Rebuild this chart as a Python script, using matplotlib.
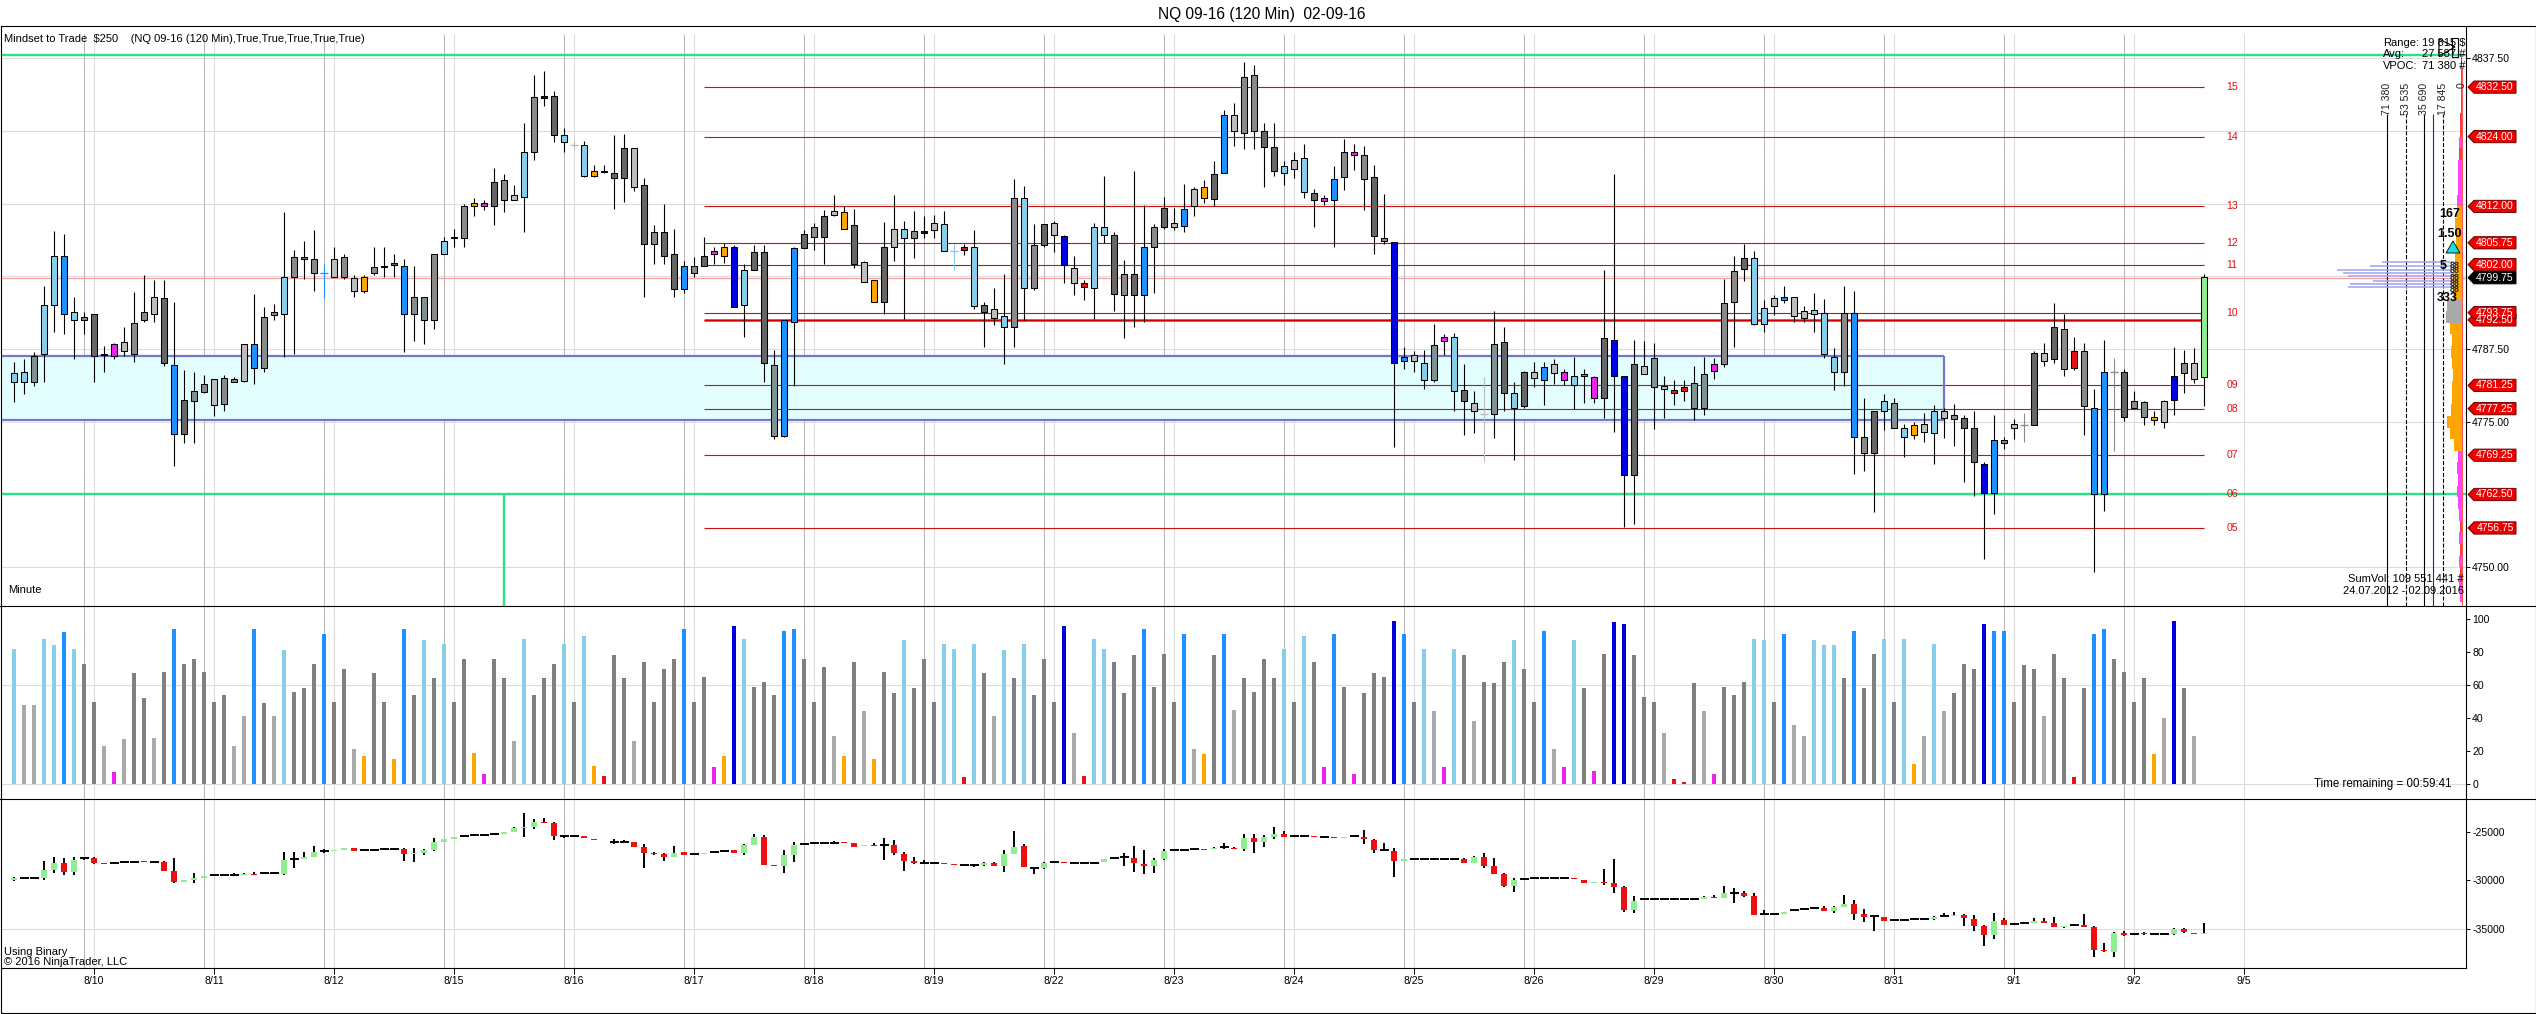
import numpy as np
import matplotlib
matplotlib.use('Agg')
import matplotlib.pyplot as plt
from matplotlib.patches import Polygon, Rectangle
from matplotlib.lines import Line2D
from matplotlib.transforms import blended_transform_factory

plt.rcParams['font.family'] = ['Liberation Sans', 'DejaVu Sans']
plt.rcParams['axes.unicode_minus'] = False

# ---- NQ 09-16, 120 min bars (index 0 = first bar on the chart) ----
high = [4785.2, 4785.7, 4787.0, 4798.4, 4807.7, 4807.3, 4796.5, 4793.8, 4793.5, 4788.1,
        4788.6, 4791.3, 4797.3, 4800.2, 4799.3, 4799.3, 4795.6, 4783.9, 4783.6, 4783.0,
        4782.4, 4783.0, 4782.7, 4788.3, 4796.9, 4794.7, 4795.3, 4811.0, 4804.5, 4806.0,
        4807.9, 4802.1, 4805.0, 4803.8, 4800.2, 4800.2, 4805.1, 4805.1, 4803.9, 4802.9,
        4801.8, 4796.5, 4803.9, 4806.7, 4808.2, 4812.5, 4813.4, 4813.1, 4818.6, 4817.6,
        4815.6, 4826.3, 4834.6, 4835.2, 4831.8, 4825.4, 4823.3, 4823.3, 4819.1, 4819.1,
        4824.2, 4824.5, 4822.1, 4816.8, 4808.8, 4812.5, 4808.2, 4802.7, 4803.3, 4806.7,
        4805.1, 4805.7, 4805.4, 4802.1, 4805.4, 4805.4, 4787.3, 4792.5, 4805.1, 4807.9,
        4809.1, 4811.3, 4814.0, 4812.0, 4811.6, 4802.7, 4799.3, 4809.4, 4814.0, 4809.5,
        4811.2, 4810.3, 4810.6, 4811.2, 4805.6, 4805.6, 4807.9, 4795.6, 4797.9, 4800.4,
        4816.7, 4815.5, 4808.9, 4809.0, 4809.5, 4807.1, 4803.4, 4799.3, 4809.2, 4817.2,
        4807.6, 4802.8, 4818.1, 4812.2, 4808.9, 4813.7, 4811.8, 4815.8, 4815.3, 4816.5,
        4819.8, 4828.6, 4829.8, 4836.8, 4836.3, 4826.4, 4826.4, 4819.8, 4821.4, 4822.7,
        4815.0, 4814.0, 4818.9, 4823.6, 4822.8, 4822.3, 4819.2, 4814.2, 4805.9, 4787.9,
        4787.2, 4787.4, 4791.8, 4790.0, 4790.2, 4784.9, 4780.2, 4782.7, 4794.0, 4791.2,
        4781.9, 4783.7, 4785.2, 4785.2, 4785.7, 4784.1, 4786.2, 4784.1, 4782.9, 4801.0,
        4817.5, 4782.9, 4789.0, 4788.8, 4788.5, 4782.9, 4782.1, 4782.1, 4784.5, 4786.2,
        4786.0, 4799.5, 4803.4, 4805.6, 4804.4, 4796.0, 4796.8, 4798.4, 4796.5, 4794.9,
        4797.1, 4796.1, 4787.7, 4798.4, 4797.4, 4779.1, 4776.8, 4779.7, 4779.0, 4774.6,
        4774.9, 4776.5, 4777.8, 4777.4, 4778.0, 4776.1, 4776.8, 4768.0, 4776.1, 4772.4,
        4775.5, 4776.5, 4787.1, 4788.5, 4795.4, 4793.6, 4789.5, 4788.5, 4780.7, 4789.1,
        4786.0, 4784.0, 4780.2, 4778.5, 4776.9, 4778.8, 4787.8, 4787.4, 4787.7, 4800.4]
low = [4778.4, 4779.7, 4781.2, 4781.8, 4790.4, 4790.0, 4785.7, 4790.1, 4781.8, 4783.5,
       4785.8, 4786.3, 4785.2, 4792.2, 4792.2, 4784.6, 4767.4, 4771.4, 4771.4, 4780.0,
       4776.0, 4776.9, 4781.8, 4781.8, 4781.5, 4783.6, 4792.5, 4786.1, 4786.7, 4799.6,
       4797.5, 4796.2, 4799.9, 4799.6, 4796.5, 4797.2, 4800.2, 4799.9, 4799.9, 4787.0,
       4788.9, 4788.3, 4791.0, 4803.8, 4805.1, 4805.1, 4810.4, 4811.3, 4808.8, 4811.0,
       4813.1, 4807.6, 4819.9, 4829.3, 4823.1, 4821.4, 4821.7, 4817.1, 4817.1, 4817.7,
       4811.6, 4812.8, 4814.6, 4796.5, 4802.1, 4802.1, 4796.5, 4797.2, 4799.9, 4801.8,
       4802.1, 4802.2, 4794.7, 4789.5, 4801.0, 4781.8, 4772.0, 4772.3, 4781.2, 4804.9,
       4804.5, 4802.1, 4810.4, 4808.2, 4801.4, 4799.0, 4795.6, 4793.5, 4802.7, 4792.6,
       4803.1, 4806.6, 4806.5, 4804.3, 4801.0, 4803.7, 4794.4, 4787.9, 4791.7, 4784.9,
       4787.9, 4792.4, 4797.6, 4805.0, 4804.2, 4798.9, 4796.7, 4796.0, 4792.6, 4805.8,
       4794.0, 4789.4, 4791.2, 4792.1, 4797.2, 4808.2, 4807.9, 4807.6, 4810.4, 4812.6,
       4812.0, 4817.7, 4822.4, 4821.9, 4821.9, 4815.4, 4817.2, 4815.7, 4816.8, 4813.4,
       4808.4, 4812.2, 4805.1, 4814.8, 4818.2, 4811.4, 4803.8, 4805.5, 4770.7, 4784.0,
       4783.5, 4780.7, 4781.8, 4786.5, 4776.8, 4772.7, 4773.0, 4768.0, 4772.2, 4776.8,
       4768.5, 4777.3, 4781.0, 4777.8, 4781.5, 4781.3, 4777.2, 4778.2, 4778.2, 4775.6,
       4773.3, 4757.0, 4757.4, 4783.2, 4773.8, 4775.7, 4777.8, 4778.5, 4775.3, 4776.2,
       4782.3, 4784.4, 4787.9, 4799.2, 4791.7, 4790.5, 4793.4, 4795.4, 4792.1, 4792.1,
       4790.4, 4786.0, 4780.4, 4781.2, 4766.1, 4766.6, 4759.5, 4773.5, 4773.9, 4768.9,
       4772.1, 4771.6, 4767.8, 4772.2, 4770.8, 4764.6, 4762.2, 4751.4, 4759.2, 4770.3,
       4772.1, 4771.6, 4774.5, 4784.6, 4785.1, 4782.9, 4783.9, 4772.8, 4749.2, 4759.7,
       4769.9, 4775.1, 4777.4, 4774.4, 4774.4, 4773.9, 4776.1, 4779.9, 4781.7, 4777.7]
body_top = [4783.4, 4783.6, 4786.3, 4795.0, 4803.4, 4803.4, 4793.8, 4793.0, 4793.5, 4786.7,
            4788.4, 4788.7, 4791.9, 4793.8, 4796.5, 4796.2, 4784.7, 4778.7, 4780.3, 4781.5,
            4782.4, 4782.5, 4782.4, 4788.3, 4788.3, 4793.0, 4793.8, 4799.9, 4803.3, 4803.3,
            4803.0, 4800.5, 4803.0, 4803.3, 4799.7, 4799.9, 4801.6, 4801.8, 4802.2, 4801.8,
            4796.5, 4796.5, 4803.8, 4806.0, 4806.7, 4812.0, 4812.6, 4812.6, 4816.2, 4816.5,
            4813.9, 4821.4, 4830.8, 4830.9, 4830.9, 4824.2, 4822.6, 4822.6, 4818.1, 4818.1,
            4817.7, 4822.1, 4822.0, 4815.6, 4807.6, 4807.6, 4803.8, 4801.8, 4801.8, 4803.4,
            4804.3, 4805.1, 4805.1, 4801.0, 4804.2, 4804.2, 4784.7, 4792.4, 4804.9, 4807.2,
            4808.4, 4810.4, 4811.2, 4811.0, 4808.8, 4802.5, 4799.3, 4805.1, 4808.2, 4808.2,
            4807.8, 4807.8, 4809.2, 4808.9, 4804.3, 4805.0, 4805.1, 4795.1, 4794.4, 4793.2,
            4813.4, 4813.4, 4805.4, 4808.9, 4809.2, 4807.0, 4801.5, 4798.9, 4808.4, 4808.4,
            4807.1, 4800.4, 4800.4, 4805.1, 4808.4, 4811.7, 4809.2, 4811.5, 4815.0, 4815.3,
            4817.5, 4827.7, 4827.7, 4834.3, 4834.6, 4824.9, 4822.2, 4818.9, 4820.0, 4820.3,
            4814.3, 4813.4, 4816.7, 4821.4, 4821.3, 4820.9, 4817.0, 4806.6, 4805.9, 4786.2,
            4786.5, 4785.1, 4788.2, 4789.6, 4789.6, 4780.4, 4778.2, 4776.3, 4788.4, 4788.7,
            4779.9, 4783.5, 4783.5, 4784.4, 4785.0, 4783.5, 4782.9, 4783.2, 4782.7, 4789.4,
            4789.0, 4782.9, 4784.9, 4784.6, 4786.0, 4781.2, 4780.4, 4781.0, 4781.7, 4783.2,
            4784.9, 4795.4, 4800.9, 4803.2, 4803.2, 4794.6, 4796.2, 4796.5, 4796.5, 4794.0,
            4794.2, 4793.7, 4786.2, 4793.7, 4793.7, 4772.4, 4776.8, 4778.5, 4778.2, 4774.0,
            4774.5, 4774.6, 4776.8, 4776.8, 4776.1, 4775.7, 4774.0, 4767.8, 4771.8, 4771.8,
            4774.6, 4774.5, 4786.8, 4786.8, 4791.2, 4791.0, 4787.2, 4787.2, 4777.4, 4783.5,
            4783.5, 4783.5, 4778.6, 4778.4, 4775.9, 4778.5, 4782.8, 4785.1, 4785.1, 4799.8]
body_bot = [4781.8, 4781.8, 4781.8, 4786.7, 4795.0, 4793.5, 4792.4, 4792.4, 4786.3, 4786.4,
            4786.3, 4787.2, 4786.7, 4792.4, 4793.5, 4785.1, 4772.9, 4772.9, 4778.6, 4780.1,
            4777.8, 4778.1, 4781.9, 4782.0, 4784.3, 4784.3, 4793.3, 4793.5, 4799.9, 4803.0,
            4800.5, 4800.5, 4799.9, 4799.9, 4797.5, 4797.5, 4800.5, 4801.6, 4802.0, 4793.5,
            4793.5, 4792.4, 4792.4, 4803.8, 4806.5, 4806.5, 4812.0, 4812.0, 4812.0, 4813.1,
            4813.1, 4813.7, 4821.4, 4830.7, 4824.2, 4823.1, 4822.6, 4817.2, 4817.2, 4818.0,
            4816.8, 4816.8, 4815.3, 4805.6, 4805.6, 4803.4, 4797.8, 4797.8, 4800.6, 4801.8,
            4803.8, 4803.4, 4794.7, 4795.0, 4801.0, 4785.1, 4772.5, 4772.5, 4792.2, 4804.9,
            4806.7, 4806.7, 4810.5, 4808.2, 4802.1, 4799.0, 4795.6, 4795.6, 4805.0, 4806.6,
            4806.5, 4807.5, 4807.9, 4804.3, 4804.3, 4804.5, 4794.9, 4793.9, 4792.9, 4791.2,
            4791.2, 4797.9, 4797.9, 4805.4, 4807.1, 4802.0, 4798.9, 4798.2, 4797.9, 4807.1,
            4797.0, 4796.7, 4796.7, 4796.7, 4805.1, 4808.4, 4808.4, 4808.7, 4812.0, 4813.4,
            4813.2, 4817.7, 4825.0, 4824.7, 4825.0, 4822.2, 4818.1, 4817.7, 4818.5, 4814.5,
            4813.1, 4813.0, 4813.1, 4817.0, 4820.8, 4816.7, 4807.0, 4806.0, 4785.1, 4785.5,
            4785.5, 4782.2, 4782.2, 4788.8, 4780.2, 4778.5, 4776.8, 4776.3, 4776.3, 4779.9,
            4777.3, 4777.7, 4782.6, 4782.2, 4783.3, 4782.2, 4781.3, 4782.8, 4779.0, 4779.0,
            4782.9, 4765.8, 4765.8, 4783.2, 4781.0, 4780.7, 4780.0, 4780.2, 4777.4, 4777.4,
            4783.7, 4785.0, 4795.5, 4801.2, 4791.8, 4791.8, 4794.9, 4796.0, 4793.2, 4792.9,
            4793.5, 4786.7, 4783.5, 4783.5, 4772.4, 4769.6, 4769.6, 4776.8, 4774.0, 4772.4,
            4772.7, 4773.3, 4773.0, 4775.6, 4775.5, 4774.0, 4768.0, 4762.8, 4762.8, 4771.3,
            4773.9, 4774.5, 4774.5, 4785.5, 4785.7, 4784.1, 4784.2, 4777.7, 4762.6, 4762.6,
            4783.5, 4775.9, 4777.4, 4775.9, 4775.3, 4774.9, 4778.8, 4783.3, 4782.3, 4782.7]
candle_codes = ("lltlldlgkg" "msggskdktg" "sggsdgglgg" "gdsgsoggkd" "gtglkgomkg"
                "slgxklslox" "kkskgkkdgk" "moblkktddk" "gksoksoksl" "gxsllrlksl"
                "glgksbsrll" "kgkdgksdso" "kdsggkklsl" "kmdgmgkgbd" "sltmlksstk"
                "lksdsmlgmk" "bbkstsrrtt" "mggkllsdss" "lllgdgkltl" "oslsgkkbdt"
                "sgkskgrgdd" "gkgtosbgsv")

# ---- volume oscillator (0..100) ----
vol_pct = [82, 48, 48, 88, 84, 92, 82, 73, 50, 23,
           7, 27, 67, 52, 28, 68, 94, 73, 76, 68,
           50, 54, 23, 41, 94, 49, 41, 81, 56, 58,
           73, 91, 50, 70, 21, 17, 67, 50, 15, 94,
           54, 87, 64, 85, 50, 76, 19, 6, 76, 64,
           26, 88, 54, 64, 73, 85, 50, 90, 11, 5,
           78, 64, 26, 74, 50, 70, 76, 94, 50, 65,
           10, 17, 96, 88, 59, 62, 54, 93, 94, 76,
           50, 71, 29, 17, 74, 44, 15, 68, 55, 87,
           58, 76, 50, 85, 82, 4, 85, 67, 41, 81,
           64, 85, 54, 76, 50, 96, 31, 5, 88, 82,
           74, 55, 78, 94, 59, 79, 50, 91, 21, 18,
           78, 91, 45, 64, 56, 76, 64, 82, 50, 90,
           74, 10, 91, 59, 6, 55, 67, 65, 99, 91,
           50, 82, 44, 10, 82, 78, 38, 62, 61, 74,
           87, 70, 50, 93, 21, 10, 87, 58, 8, 79,
           98, 97, 78, 53, 50, 31, 3, 1, 61, 44,
           6, 59, 54, 62, 88, 87, 50, 91, 36, 29,
           87, 84, 84, 64, 93, 58, 79, 88, 50, 88,
           12, 29, 85, 44, 55, 73, 70, 97, 93, 93,
           50, 72, 70, 41, 79, 64, 4, 58, 91, 94,
           76, 68, 50, 64, 18, 40, 99, 58, 29, np.nan]
vol_codes = ("LSSLLDLGGS" "MSGGSGDGGG" "GGSSDGSLGG" "GDGGSOGGOD" "GLGLGGOMGG"
             "SLGGGLGLOR" "GGSGGGGDGG" "MOBLGGGDDG" "GGSOGSOGGL" "GGGLLRLGSL"
             "GLGGGBSRLL" "GGGDGGGDSO" "GDSGGGGLGL" "GMDGMGGGBD" "GLSMLGSGGG"
             "LGGDSMLGMG" "BBGGGSRRGS" "MGGGLLGDSS" "LLLGDGGLGL" "OSLSGGGBDD"
             "GGGSGGRGDD" "GGGGOSBGS-")

# ---- cumulative delta candles ----
d_open = [-29950, -29780, -29780, -29780, -28920, -28160, -29090, -27720, -27650, -28160,
          -28230, -28130, -28060, -27990, -28060, -28060, -28990, -30130, -29950, -29710,
          -29440, -29440, -29440, -29440, -29330, -29270, -29270, -29330, -27820, -27820,
          -27550, -26960, -26960, -26860, -26690, -26860, -26860, -26790, -26790, -26790,
          -27300, -27130, -26860, -26000, -25760, -25410, -25310, -25310, -25210, -25210,
          -24970, -24620, -24450, -23930, -24040, -25380, -25380, -25380, -25720, -25890,
          -26000, -26000, -26000, -26580, -27130, -27270, -27610, -27030, -27270, -27270,
          -27030, -26930, -26860, -27200, -26340, -25480, -28410, -28510, -27370, -26240,
          -26170, -26170, -26100, -26000, -26170, -26450, -26340, -26340, -26340, -27270,
          -27960, -28160, -28160, -28160, -28300, -28440, -28440, -28440, -28230, -28470,
          -27270, -26440, -28680, -28750, -28090, -28090, -28200, -28230, -28160, -28090,
          -27650, -27540, -27650, -28300, -28470, -27820, -26860, -26820, -26790, -26720,
          -26790, -26580, -26610, -26790, -25650, -26000, -25550, -25240, -25450, -25450,
          -25450, -25550, -25550, -25650, -25410, -25480, -25820, -26860, -26920, -27960,
          -27780, -27780, -27780, -27780, -27780, -27820, -28160, -27540, -28500, -29330,
          -30570, -29880, -29780, -29780, -29780, -29780, -29780, -29950, -30220, -30120,
          -30290, -30700, -33040, -31910, -31940, -31940, -31940, -31940, -31940, -31940,
          -31670, -31770, -31250, -31250, -31600, -33450, -33450, -33450, -33040, -32940,
          -32870, -32870, -33110, -32700, -32420, -33450, -33660, -33730, -34070, -34070,
          -34010, -34010, -34010, -33670, -33670, -33560, -33970, -34690, -35620, -34080,
          -34490, -34420, -34420, -34140, -34350, -34830, -34590, -34590, -34760, -37160,
          -37330, -35380, -35510, -35450, -35510, -35510, -35510, -35040, -35380, -35510]
d_close = [-29780, -29780, -29780, -28920, -28160, -29090, -27890, -27720, -28230, -28300,
           -28230, -28130, -28060, -28130, -28060, -28990, -30130, -29950, -29710, -29510,
           -29440, -29440, -29440, -29330, -29440, -29270, -29270, -27890, -27820, -27550,
           -27100, -26960, -26860, -26690, -26930, -26860, -26860, -26790, -26790, -27300,
           -27130, -26860, -26000, -25760, -25480, -25410, -25310, -25310, -25210, -24970,
           -24620, -24450, -23930, -24110, -25380, -25380, -25380, -25650, -25830, -25960,
           -26000, -26000, -26510, -27130, -27270, -27610, -27130, -27370, -27270, -27130,
           -27030, -26930, -27200, -26340, -25480, -28410, -28510, -27370, -26340, -26240,
           -26170, -26170, -26100, -26170, -26510, -26340, -26450, -26340, -27200, -27960,
           -28230, -28160, -28160, -28260, -28440, -28440, -28440, -28230, -28470, -27270,
           -26510, -28640, -28680, -28160, -28090, -28230, -28200, -28230, -28160, -27820,
           -27650, -27540, -28230, -28470, -27890, -26920, -26860, -26820, -26790, -26820,
           -26650, -26580, -26790, -25580, -26000, -25480, -25210, -25480, -25450, -25450,
           -25550, -25550, -25650, -25480, -25410, -25760, -26860, -26860, -27960, -27820,
           -27780, -27780, -27780, -27780, -27780, -28160, -27540, -28500, -29330, -30570,
           -29950, -29880, -29780, -29780, -29780, -29780, -29880, -30220, -30120, -30290,
           -30700, -33040, -32080, -31910, -31940, -31940, -31940, -31940, -31940, -31670,
           -31770, -31250, -31250, -31600, -33560, -33450, -33450, -33210, -33040, -32940,
           -32870, -33110, -32700, -32420, -33450, -33730, -33660, -34140, -34070, -34070,
           -34010, -34010, -33730, -33670, -33560, -33900, -34690, -35620, -34140, -34590,
           -34490, -34420, -34140, -34350, -34830, -34690, -34590, -34760, -37160, -37230,
           -35450, -35620, -35510, -35510, -35510, -35510, -35040, -35310, -35510, -35380]
d_high = [-29680, -29710, -29780, -27990, -27550, -27720, -27610, -27550, -27550, -28160,
          -28230, -27990, -28060, -27990, -28060, -27960, -27720, -29950, -29270, -29510,
          -29440, -29440, -29270, -29200, -29090, -29270, -29160, -27030, -27030, -27030,
          -26450, -26790, -26860, -26690, -26690, -26860, -26860, -26790, -26690, -26690,
          -26690, -26790, -25650, -25760, -25480, -25410, -25310, -25310, -25070, -24970,
          -24520, -23070, -23690, -23590, -23930, -25310, -25380, -25380, -25720, -25890,
          -25760, -25830, -26000, -26240, -27030, -27200, -26450, -27030, -27270, -27130,
          -27030, -26930, -26860, -26240, -25210, -25310, -28410, -26860, -26000, -26240,
          -26170, -26170, -25890, -26000, -26170, -26340, -26100, -25650, -25830, -27030,
          -27610, -27890, -28160, -28160, -28300, -28440, -28300, -28060, -28060, -26860,
          -24900, -26270, -28570, -28090, -27990, -28090, -28200, -28230, -28060, -27820,
          -27540, -27200, -26440, -26860, -27710, -26790, -26860, -26820, -26790, -26720,
          -26510, -26170, -26510, -25240, -25210, -25310, -24520, -24900, -25450, -25450,
          -25450, -25550, -25550, -25480, -25310, -24790, -25760, -26170, -26680, -27820,
          -27780, -27780, -27780, -27780, -27780, -27710, -27470, -27200, -27710, -29260,
          -29780, -29780, -29780, -29780, -29780, -29780, -29780, -29950, -30120, -28850,
          -27820, -30570, -31600, -31770, -31940, -31940, -31940, -31940, -31940, -31600,
          -31490, -30570, -30810, -31050, -31250, -33040, -33450, -33210, -33040, -32940,
          -32770, -32630, -32630, -31490, -32010, -32970, -33560, -33730, -34070, -34070,
          -34010, -34010, -33670, -33390, -33220, -33490, -33560, -34590, -33390, -33900,
          -34490, -34420, -33900, -33900, -33800, -34690, -34590, -33460, -34690, -36470,
          -35280, -35170, -35510, -35310, -35510, -35510, -34930, -34930, -35380, -34420]
d_low = [-30020, -29850, -29780, -29950, -29270, -29440, -29440, -27890, -28300, -28300,
         -28230, -28230, -28060, -28130, -28060, -29060, -30300, -30130, -30300, -29710,
         -29440, -29440, -29540, -29470, -29470, -29270, -29370, -29440, -28680, -27820,
         -27550, -27200, -26960, -26860, -26930, -26860, -26860, -26790, -26860, -27960,
         -28060, -27370, -26930, -26000, -25760, -25410, -25310, -25310, -25310, -25210,
         -24970, -25550, -24720, -24110, -25830, -25650, -25380, -25650, -25830, -25960,
         -26240, -26170, -26580, -28680, -27370, -27960, -27610, -27370, -27270, -27270,
         -27030, -26930, -27200, -27370, -26340, -28410, -28510, -29200, -28060, -26240,
         -26170, -26170, -26240, -26170, -26510, -26450, -26450, -27890, -27370, -28990,
         -28300, -28230, -28160, -28260, -28440, -28440, -28570, -28470, -28500, -29090,
         -27270, -28640, -29330, -28780, -28160, -28230, -28200, -28230, -28230, -28090,
         -27820, -28470, -29090, -29330, -29190, -27890, -26860, -26820, -26790, -26820,
         -26790, -26790, -26790, -26920, -27130, -26580, -25760, -25550, -25450, -25450,
         -25550, -25550, -25650, -25650, -25550, -26270, -27130, -26860, -29670, -27960,
         -27780, -27780, -27780, -27780, -27780, -28160, -28160, -28750, -29330, -30640,
         -31150, -29950, -29780, -29780, -29780, -29780, -29880, -30220, -30220, -30460,
         -31290, -33210, -33320, -32010, -31940, -31940, -31940, -31940, -31940, -31940,
         -31770, -31770, -32280, -31730, -33560, -33450, -33450, -33450, -33040, -32940,
         -32940, -33110, -33320, -32770, -34070, -34240, -35170, -34140, -34070, -34070,
         -34010, -34010, -34080, -33730, -33670, -34690, -35170, -36750, -36060, -34590,
         -34490, -34420, -34420, -34350, -34830, -34930, -34590, -34830, -37910, -37330,
         -37910, -35720, -35510, -35580, -35510, -35510, -35580, -35380, -35510, -35510]

# ---- time axis ----
date_labels = ['8/10', '8/11', '8/12', '8/15', '8/16', '8/17', '8/18', '8/19', '8/22', '8/23',
               '8/24', '8/25', '8/26', '8/29', '8/30', '8/31', '9/1', '9/2', '9/5']
date_pos = [8, 20, 32, 44, 56, 68, 80, 92, 104, 116, 128, 140, 152, 164, 176, 188, 200, 212, 223]
session_pos = [7, 19, 31, 43, 55, 67, 79, 91, 103, 115, 127, 139, 151, 163, 175, 187, 199, 211]

# ---- drawn levels ----
levels = [4832.5, 4824.0, 4812.0, 4805.75, 4802.0, 4793.75, 4792.5, 4781.25, 4777.25, 4769.25, 4762.5, 4756.75]
level_names = ['15', '14', '13', '12', '11', '10', '', '09', '08', '07', '06', '05']
level_start, level_end = 69, 219
zone_lo, zone_hi, zone_end = 4775.25, 4786.25, 193
green_levels = [4838.0, 4762.5]
green_mark_bar = 49
last_price = 4799.75
flag_prices = [4832.5, 4824.0, 4812.0, 4805.75, 4802.0, 4792.5, 4793.75, 4781.25, 4777.25,
               4769.25, 4762.5, 4756.75]
axis_prices = [4837.5, 4787.5, 4775.0, 4750.0]

# ---- volume profile on the right ----
profile_price = [4745, 4747, 4749, 4751, 4753, 4755, 4757, 4759, 4761, 4763, 4765, 4767, 4769,
                 4771, 4773, 4775, 4777, 4779, 4781, 4783, 4785, 4787, 4789, 4791, 4793, 4795,
                 4797, 4799, 4801, 4803, 4805, 4807, 4809, 4811, 4813, 4815, 4817, 4819, 4821,
                 4823, 4825, 4827, 4829, 4831, 4833, 4835, 4837]
profile_vol = [1900, 2900, 1900, 2900, 1900, 2900, 1900, 2900, 3800, 4800, 3800, 4800, 3800,
               7600, 11400, 14300, 10500, 9500, 9500, 8600, 9500, 10500, 9500, 11400, 15200, 14300,
               8600, 8600, 7600, 6700, 5700, 5700, 6700, 4800, 4800, 3800, 3800, 3800, 2900,
               2900, 1900, 1900, 1000, 1000, 1000, 1000, 1000]
profile_codes = "mmrmrmrmmmmmm" "ooooooooooo" "ss" "oooooooo" "mmmm" "rmrrrrrrr"
ref_vols = [71380, 53535, 35690, 17845]
ref_labels = ['71 380', '53 535', '35 690', '17 845']
ref_styles = ['-', '--', '-', '--']
avg_vol = 27587
cur_price = [4802.45, 4801.8, 4801.1, 4800.5, 4800.0, 4799.2, 4798.6, 4798.1]
cur_vol = [76100, 87600, 119000, 113300, 108500, 84700, 106600, 108500]

# ---- colours ----
candle_cmap = {'l': '#87ceeb', 'd': '#1e90ff', 'b': '#0000e6', 'g': '#8a8a8a', 'k': '#666666',
               's': '#bdbdbd', 't': '#7f9191', 'o': '#ffa500', 'm': '#ee22ee', 'r': '#e8101a',
               'x': '#151515', 'v': '#90ee90'}
vol_cmap = {'L': '#87ceeb', 'D': '#1e90ff', 'B': '#0000dd', 'G': '#808080', 'S': '#a9a9a9',
            'O': '#ffa500', 'M': '#ee22ee', 'R': '#e8101a', '-': 'none'}
prof_cmap = {'m': '#ff44ff', 'o': '#ffa500', 's': '#aaaaaa', 'r': '#ff3a3a'}
GREEN = '#27e28c'

W, H = 2536, 1014
FS = 8.0  # small label text


def fx(px):
    return px / W


def fy(py):
    return 1 - py / H


def rect(x0, y0, x1, y1):
    return [fx(x0), fy(y1), (x1 - x0) / W, (y1 - y0) / H]


fig = plt.figure(figsize=(W / 100, H / 100), dpi=100)
fig.patch.set_facecolor('white')

ax1 = fig.add_axes(rect(2, 27, 2466, 606))
ax2 = fig.add_axes(rect(2, 606, 2466, 799))
ax3 = fig.add_axes(rect(2, 799, 2466, 968))
xlo, xhi = -1.2, 245.2
for ax in (ax1, ax2, ax3):
    ax.set_xlim(xlo, xhi)
    for s in ax.spines.values():
        s.set_visible(False)
    ax.yaxis.tick_right()
    ax.tick_params(axis='y', length=3, width=0.7, pad=1.5, labelsize=7.6)
ax1.set_ylim(4743.34, 4842.83)
ax2.set_ylim(-9.1, 107.9)
ax3.set_ylim(-39020, -21600)
ax1.set_xticks([])
ax2.set_xticks([])

x = np.arange(len(high))
hi_a, lo_a = np.array(high), np.array(low)
top_a, bot_a = np.array(body_top), np.array(body_bot)

# ---------- price panel ----------
for p in np.arange(4750, 4840, 12.5):
    ax1.axhline(p, color='#dcdcdc', lw=0.75, zorder=0.5)
ax1.vlines(session_pos, 4743.34, 4841.6, color='#b8b8b8', lw=0.75, zorder=0.55)
ax1.vlines(date_pos, 4743.34, 4841.6, color='#dcdcdc', lw=0.75, zorder=0.55)

ax1.add_patch(Rectangle((xlo, zone_lo), zone_end - xlo, zone_hi - zone_lo,
                        facecolor='#e2fefe', edgecolor='none', zorder=0.6))
ax1.hlines([zone_lo, zone_hi], xlo, zone_end, color='#7676cc', lw=1.6, zorder=1.3)
ax1.vlines(zone_end, zone_lo, zone_hi, color='#7676cc', lw=1.6, zorder=1.3)

for lv, name in zip(levels, level_names):
    if lv == 4792.5:
        ax1.hlines(lv, level_start, level_end, color='#ff5050', lw=2.2, zorder=1.0)
        ax1.hlines(lv, level_start, level_end, color='#cc0000', lw=0.8, zorder=1.01)
    else:
        ax1.hlines(lv, level_start, level_end, color='#cc1010', lw=0.8, zorder=1.0)
    if name:
        ax1.text(221.8, lv, name, color='#e01010', fontsize=7.6, ha='center', va='center')

ax1.axhline(last_price, color='#f2a0a0', lw=0.9, zorder=1.1)
for g in green_levels:
    ax1.axhline(g, color=GREEN, lw=1.7, zorder=1.2)
ax1.vlines(green_mark_bar, 4743.34, green_levels[1], color=GREEN, lw=1.7, zorder=1.2)

ccols = [candle_cmap[c] for c in candle_codes]
doji = (top_a - bot_a) < 0.05
wick_cols = [c if d else 'black' for c, d in zip(ccols, doji)]
ax1.vlines(x, lo_a, hi_a, colors=wick_cols, lw=0.8, zorder=3)
nd = ~doji
ax1.bar(x[nd], (top_a - bot_a)[nd], bottom=bot_a[nd], width=0.6,
        color=[c for c, k in zip(ccols, nd) if k], edgecolor='black', linewidth=0.75, zorder=4)
ax1.hlines(top_a[doji], x[doji] - 0.4, x[doji] + 0.4,
           colors=[c for c, k in zip(ccols, doji) if k], lw=1.0, zorder=4)

ax1.set_yticks(axis_prices)
ax1.set_yticklabels([f'{p:.2f}' for p in axis_prices])

# price flags on the right axis
bt = blended_transform_factory(fig.transFigure, ax1.transData)
hh = 1.05


def flag(p, face, edge):
    pts = [(fx(2468), p), (fx(2474), p + hh), (fx(2516), p + hh), (fx(2516), p - hh), (fx(2474), p - hh)]
    ax1.add_patch(Polygon(pts, closed=True, transform=bt, facecolor=face, edgecolor=edge,
                          lw=0.7, clip_on=False, zorder=10))
    ax1.text(fx(2495), p, f'{p:.2f}', transform=bt, color='white', fontsize=7.5,
             ha='center', va='center', clip_on=False, zorder=11)


for p in flag_prices:
    flag(p, '#ee0000', '#700000')
flag(last_price, '#000000', '#000000')

# ---------- profile overlay ----------
axp = fig.add_axes(rect(2300, 27, 2466, 606))
axp.set_ylim(ax1.get_ylim())
axp.set_xlim(154175, -3807)
axp.axis('off')
axp.patch.set_alpha(0)
axp.barh(profile_price, profile_vol, height=2, left=0,
         color=[prof_cmap[c] for c in profile_codes], edgecolor='none', zorder=2)
for v, lab, ls in zip(ref_vols, ref_labels, ref_styles):
    axp.vlines(v, 4743.34, 4827.9, color='black', lw=0.8, linestyle=ls, zorder=1)
    axp.text(v, 4833.3, lab, rotation=90, fontsize=7.6, ha='center', va='top', color='#222222')
axp.text(0, 4833.3, '0', rotation=90, fontsize=7.6, ha='center', va='top', color='#222222')
axp.vlines(avg_vol, 4743.34, 4827.9, color='#2020b0', lw=0.8, zorder=1)
axp.vlines(0, 4743.34, 4836.0, color='#ff5a5a', lw=0.8, zorder=2.5)
axp.hlines(cur_price, 6700, cur_vol, color='#a0a0f0', lw=1.1, zorder=3)

fig.text(fx(2450), fy(214), '167', fontsize=9, fontweight='bold', ha='center', va='center')
fig.text(fx(2449), fy(234), '1.50', fontsize=9, fontweight='bold', ha='center', va='center')
fig.add_artist(Polygon([(fx(2453), fy(241)), (fx(2446), fy(253)), (fx(2460), fy(253))],
                       closed=True, transform=fig.transFigure, facecolor='#22dddd',
                       edgecolor='black', lw=0.6))
fig.text(fx(2443), fy(266), '5', fontsize=9, fontweight='bold', ha='center', va='center')
for yy in [265, 271, 277, 283, 289]:
    fig.text(fx(2455), fy(yy), '88', fontsize=6.5, fontweight='bold', color='#2a2a10',
             ha='center', va='center')
fig.text(fx(2447), fy(298), '333', fontsize=9, fontweight='bold', ha='center', va='center')

fig.text(fx(2383), fy(43), 'Range:', fontsize=8, va='center')
fig.text(fx(2465), fy(43), '19 815 \\$', fontsize=8, va='center', ha='right')
fig.text(fx(2383), fy(54), 'Avg:', fontsize=8, va='center')
fig.text(fx(2465), fy(54), '27 587 #', fontsize=8, va='center', ha='right')
fig.text(fx(2383), fy(66), 'VPOC:', fontsize=8, va='center')
fig.text(fx(2465), fy(66), '71 380 #', fontsize=8, va='center', ha='right')
fig.add_artist(Polygon([(fx(2439), fy(39)), (fx(2455), fy(47)), (fx(2439), fy(56))],
                       closed=True, transform=fig.transFigure, facecolor='none',
                       edgecolor='black', lw=0.8))
fig.add_artist(Rectangle((fx(2452), fy(57)), 6 / W, 19 / H, transform=fig.transFigure,
                         facecolor='none', edgecolor='black', lw=0.8))

# ---------- volume panel ----------
ax2.axhline(0, color='#dcdcdc', lw=0.75, zorder=0.5)
ax2.axhline(60, color='#dcdcdc', lw=0.75, zorder=0.5)
for p, c in ((session_pos, '#b8b8b8'), (date_pos, '#dcdcdc')):
    for xv in p:
        ax2.axvline(xv, color=c, lw=0.75, zorder=0.55)
        ax3.axvline(xv, color=c, lw=0.75, zorder=0.55)
vol_a = np.array(vol_pct, dtype=float)
ok = ~np.isnan(vol_a)
ax2.bar(x[ok], vol_a[ok], width=0.32, color=[vol_cmap[c] for c, k in zip(vol_codes, ok) if k],
        zorder=2)
ax2.set_yticks([0, 20, 40, 60, 80, 100])

# ---------- cumulative delta panel ----------
ax3.axhline(-35000, color='#dcdcdc', lw=0.75, zorder=0.5)
do, dc = np.array(d_open), np.array(d_close)
up, dn, fl = dc > do, dc < do, dc == do
ax3.vlines(x, d_low, d_high, color='black', lw=1.4, zorder=2)
ax3.bar(x[up], (dc - do)[up], bottom=do[up], width=0.6, color='#90ee90', zorder=3)
ax3.bar(x[dn], (do - dc)[dn], bottom=dc[dn], width=0.6, color='#ee1010', zorder=3)
ax3.hlines(do[fl], x[fl] - 0.45, x[fl] + 0.45, color='black', lw=1.4, zorder=3)
ax3.set_yticks([-25000, -30000, -35000])
ax3.set_yticklabels(['-25000', '-30000', '-35000'])
ax3.set_xticks(date_pos)
ax3.set_xticklabels(date_labels)
ax3.tick_params(axis='x', length=4, width=0.7, pad=2, labelsize=7.6)

# ---------- frame and texts ----------
def fline(xs, ys, lw=0.8):
    fig.add_artist(Line2D([fx(v) for v in xs], [fy(v) for v in ys], transform=fig.transFigure,
                          color='black', lw=lw))


fline([0.5, 2535.5, 2535.5, 0.5, 0.5], [25.5, 25.5, 1013, 1013, 25.5])
fline([0, 2536], [606, 606])
fline([0, 2536], [799, 799])
fline([2466, 2466], [25.5, 968])
fline([0.5, 2466], [968, 968])

fig.text(fx(1262), fy(14), 'NQ 09-16 (120 Min)  02-09-16', fontsize=11.2, ha='center', va='center')
fig.text(fx(4), fy(39), 'Mindset to Trade  \\$250    (NQ 09-16 (120 Min),True,True,True,True,True)',
         fontsize=FS, va='center')
fig.text(fx(8), fy(590), 'Minute', fontsize=FS, va='center')
fig.text(fx(2464), fy(579), 'SumVol: 109 551 441 #', fontsize=FS, va='center', ha='right')
fig.text(fx(2464), fy(591), '24.07.2012 - 02.09.2016', fontsize=FS, va='center', ha='right')
fig.text(fx(2451), fy(784), 'Time remaining = 00:59:41', fontsize=8.3, va='center', ha='right')
fig.text(fx(4), fy(952), 'Using Binary', fontsize=FS, va='center')
fig.text(fx(4), fy(962), '\u00a9 2016 NinjaTrader, LLC', fontsize=FS, va='center')

fig.savefig('out.png', dpi=100, facecolor='white')
